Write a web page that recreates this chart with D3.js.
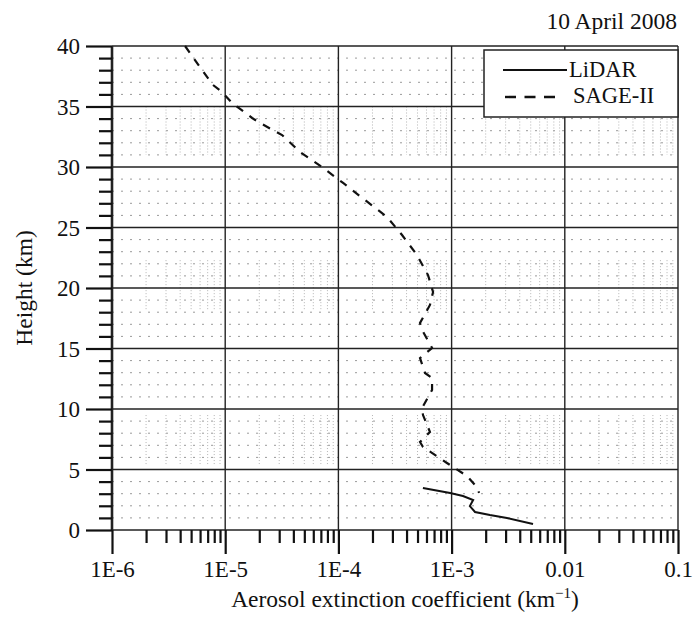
<!DOCTYPE html>
<html>
<head>
<meta charset="utf-8">
<script src="https://cdn.jsdelivr.net/npm/d3@7"></script>
<style>
  body { margin: 0; background: #fff; }
  svg text { font-family: "Liberation Serif", "DejaVu Serif", serif; fill: #111; }
</style>
</head>
<body>
<svg id="chart" width="693" height="619"></svg>
<script>
// ---- data ----
const title = "10 April 2008";
const xTickLabels = ["1E-6", "1E-5", "1E-4", "1E-3", "0.01", "0.1"];
const xTickValues = [1e-6, 1e-5, 1e-4, 1e-3, 1e-2, 1e-1];
const yTickValues = [0, 5, 10, 15, 20, 25, 30, 35, 40];
const seriesNames = ["LiDAR", "SAGE-II"];

const lidarExt = [5.58e-4, 9.7e-4, 1.26e-3, 1.55e-3, 1.45e-3, 1.61e-3, 2.18e-3, 3.08e-3, 5.24e-3];
const lidarHeight = [3.47, 3.06, 2.81, 2.48, 1.98, 1.49, 1.24, 0.99, 0.5];

const sageExt = [4.42e-6, 5.98e-6, 7.8e-6, 9.37e-6, 1.15e-5, 1.73e-5, 2.03e-5, 3.18e-5, 4.58e-5, 7.16e-5,
  1.10e-4, 1.72e-4, 2.69e-4, 3.65e-4, 4.94e-4, 6.19e-4, 6.86e-4, 6.44e-4, 5.26e-4, 5.48e-4,
  6.72e-4, 5.26e-4, 5.82e-4, 6.72e-4, 6.72e-4, 5.48e-4, 5.59e-4, 6.44e-4, 5.26e-4, 5.59e-4,
  9.1e-4, 1.37e-3, 1.67e-3, 1.75e-3];
const sageHeight = [40, 38.26, 36.78, 36.2, 35.29, 34.05, 33.64, 32.64, 31.24, 30.0,
  28.68, 27.27, 25.87, 24.38, 22.73, 21.07, 19.67, 18.6, 17.11, 16.53,
  15.04, 14.21, 12.98, 12.56, 11.57, 10.08, 9.5, 8.1, 7.27, 6.86,
  5.54, 4.46, 3.55, 3.06];

// height bands in which the minor vertical grid is visible in the original
const minorGridBands = [[31, 35], [18.2, 22.3], [5.3, 9.5]];

// ---- layout ----
const FONT = '"Liberation Serif", "DejaVu Serif", serif';
const svg = d3.select("#chart");
const L = 112, R = 678, T = 46, B = 530;
const x = d3.scaleLog().domain([1e-6, 1e-1]).range([L, R]);
const y = d3.scaleLinear().domain([0, 40]).range([B, T]);

const minorX = [];
for (let e = -6; e < -1; e++) for (let m = 2; m <= 9; m++) minorX.push(m * Math.pow(10, e));
const minorY = d3.range(0, 41).filter(v => v % 5 !== 0);

const g = svg.append("g");

// minor horizontal dotted grid
g.selectAll(".hminor").data(minorY).join("line")
  .attr("x1", L).attr("x2", R).attr("y1", d => y(d)).attr("y2", d => y(d))
  .attr("stroke", "#9a9a9a").attr("stroke-width", 1).attr("stroke-dasharray", "2,7");

// minor vertical dotted grid (only in bands)
minorGridBands.forEach(b => {
  g.selectAll(null).data(minorX).join("line")
    .attr("x1", d => x(d)).attr("x2", d => x(d))
    .attr("y1", y(b[1])).attr("y2", y(b[0]))
    .attr("stroke", "#b4b4b4").attr("stroke-width", 1).attr("stroke-dasharray", "1,2");
});

// major grid
g.selectAll(".hmajor").data(yTickValues).join("line")
  .attr("x1", L).attr("x2", R).attr("y1", d => y(d)).attr("y2", d => y(d))
  .attr("stroke", "#222").attr("stroke-width", 1.4);
g.selectAll(".vmajor").data(xTickValues).join("line")
  .attr("x1", d => x(d)).attr("x2", d => x(d)).attr("y1", T).attr("y2", B)
  .attr("stroke", "#222").attr("stroke-width", d => d === 1e-6 ? 2.6 : 1.4);

// axes
const yAxisMajor = d3.axisLeft(y).tickValues(yTickValues).tickSize(26).tickPadding(6);
const yAxisMinor = d3.axisLeft(y).tickValues(minorY).tickSize(13).tickFormat("");
const xAxisMajor = d3.axisBottom(x).tickValues(xTickValues).tickSize(24).tickPadding(7)
  .tickFormat((d, i) => xTickLabels[i]);
const xAxisMinor = d3.axisBottom(x).tickValues(minorX).tickSize(13).tickFormat("");

function styleAxis(sel) {
  sel.attr("font-family", FONT);
  sel.select(".domain").remove();
  sel.selectAll(".tick line").attr("stroke", "#111").attr("stroke-width", 2.2);
  sel.selectAll(".tick text").style("font-size", "23px").attr("fill", "#111")
    .style("font-family", FONT);
}
svg.append("g").attr("transform", `translate(${L},0)`).call(yAxisMajor).call(styleAxis)
  .selectAll(".tick text").attr("dy", "0.34em");
svg.append("g").attr("transform", `translate(${L},0)`).call(yAxisMinor).call(styleAxis);
svg.append("g").attr("transform", `translate(0,${B})`).call(xAxisMajor).call(styleAxis);
svg.append("g").attr("transform", `translate(0,${B})`).call(xAxisMinor).call(styleAxis);

// series
const line = d3.line().x(d => x(d[0])).y(d => y(d[1]));
const lidarPts = lidarExt.map((v, i) => [v, lidarHeight[i]]);
const sagePts = sageExt.map((v, i) => [v, sageHeight[i]]);
svg.append("path").datum(sagePts).attr("d", line)
  .attr("fill", "none").attr("stroke", "#111").attr("stroke-width", 2.2)
  .attr("stroke-dasharray", "8,8");
svg.append("path").datum(lidarPts).attr("d", line)
  .attr("fill", "none").attr("stroke", "#111").attr("stroke-width", 2);

// legend
const lg = svg.append("g");
lg.append("rect").attr("x", 484).attr("y", 50).attr("width", R - 484).attr("height", 67)
  .attr("fill", "#fff").attr("stroke", "#222").attr("stroke-width", 1.5);
lg.append("line").attr("x1", 503).attr("x2", 567).attr("y1", 70).attr("y2", 70)
  .attr("stroke", "#111").attr("stroke-width", 2);
lg.append("line").attr("x1", 505).attr("x2", 555).attr("y1", 97).attr("y2", 97)
  .attr("stroke", "#111").attr("stroke-width", 2.4).attr("stroke-dasharray", "11,8.5");
lg.append("text").attr("x", 569).attr("y", 77).attr("font-family", FONT).style("font-size", "22.5px").text(seriesNames[0]);
lg.append("text").attr("x", 573).attr("y", 103).attr("font-family", FONT).style("font-size", "22.5px").text(seriesNames[1]);

// title and labels
svg.append("text").attr("x", 677).attr("y", 29).attr("text-anchor", "end").attr("font-family", FONT)
  .style("font-size", "23.5px").text(title);
svg.append("text").attr("transform", "translate(32,288) rotate(-90)").attr("text-anchor", "middle")
  .attr("font-family", FONT).style("font-size", "23.5px").text("Height (km)");
const xl = svg.append("text").attr("x", 405).attr("y", 607).attr("text-anchor", "middle")
  .attr("font-family", FONT).style("font-size", "23.5px");
xl.append("tspan").text("Aerosol extinction coefficient (km");
xl.append("tspan").text("\u22121").attr("dy", -9).style("font-size", "15px");
xl.append("tspan").text(")").attr("dy", 9);
</script>
</body>
</html>
